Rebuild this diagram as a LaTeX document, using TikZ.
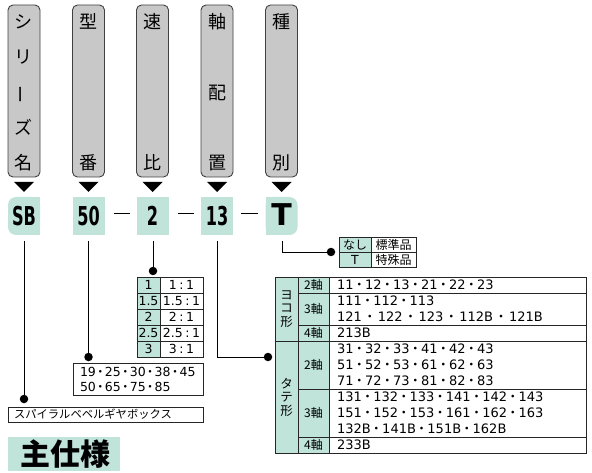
\documentclass[tikz,border=0pt]{standalone}
\usepackage{fontspec}
\setmainfont{DejaVu Sans}
\newfontfamily\jp{Noto Sans CJK JP}
\definecolor{mint}{RGB}{192,228,218}
\definecolor{boxgray}{RGB}{200,200,200}
\newcommand\dt{\hbox to 11.5pt{\hss{\jp ・}\hss}}
\newcommand\dtw{\hbox to 16pt{\hss{\jp ・}\hss}}
\newcommand\dts{\hbox to 9pt{\hss{\jp ・}\hss}}
\newcommand\rt[2]{#1\hspace{2.5pt}:\hspace{2.5pt}#2}
\newcommand\bignum[1]{\scalebox{0.62}[1]{\fontsize{26}{26}\selectfont\bfseries #1}}
\tikzset{
  graybox/.style={draw=black!75, fill=boxgray, rounded corners=5pt, line width=0.9pt, minimum width=32pt, minimum height=172pt},
  greenbox/.style={fill=mint, minimum width=32pt, minimum height=38pt},
  dot/.style={circle, fill=black, minimum size=8.5pt},
  conn/.style={draw=black, line width=0.7pt},
  tbl/.style={draw=black!85, line width=0.7pt},
  vchar/.style={font=\jp\fontsize{18}{18}\selectfont},
  cell/.style={font=\fontsize{13}{13}\selectfont},
  scell/.style={font=\fontsize{12.5}{12.5}\selectfont},
  jcell/.style={font=\jp\fontsize{12}{12}\selectfont},
  wbox/.style={draw=black!85, line width=0.7pt}
}
\begin{document}
\begin{tikzpicture}[x=1pt,y=-1pt, every node/.style={inner sep=0pt, outer sep=0pt}]
\useasboundingbox (0,0) rectangle (592,473);

% gray header boxes
\node[graybox] (g1) at (24,91) {};
\node[graybox] (g2) at (88.5,91) {};
\node[graybox] (g3) at (152.5,91) {};
\node[graybox] (g4) at (217,91) {};
\node[graybox] (g5) at (281.5,91) {};
\node[vchar] (c11) at (24,21.7) {シ};
\node[vchar] (c12) at (24,57) {リ};
\node[vchar] (c13) at (24,95) {\rotatebox{90}{ー}};
\node[vchar] (c14) at (24,127.5) {ズ};
\node[vchar] (c15) at (24,163) {名};
\node[vchar] (c21) at (88.5,21.5) {型};
\node[vchar] (c22) at (88.5,163) {番};
\node[vchar] (c31) at (152.5,21.5) {速};
\node[vchar] (c32) at (152.5,163) {比};
\node[vchar] (c41) at (217,21.5) {軸};
\node[vchar] (c42) at (217,93) {配};
\node[vchar] (c43) at (217,163) {置};
\node[vchar] (c51) at (281.5,21.5) {種};
\node[vchar] (c52) at (281.5,163) {別};
\foreach \n in {g1,g2,g3,g4,g5}
  \fill ([xshift=-10pt,yshift=-5pt]\n.south) -- ++(20,0) -- ++(-10,10) -- cycle;

% green code boxes
\node[greenbox, rounded corners=8pt] (sb) at (24,216) {};
\fill[mint] (sb.north) rectangle (sb.south east);
\node[greenbox] (b50) at (88.5,216) {};
\node[greenbox] (b2) at (152.5,216) {};
\node[greenbox] (b13) at (217,216) {};
\node[greenbox, rounded corners=8pt] (bt) at (281.5,216) {};
\fill[mint] (bt.north west) rectangle (bt.south);
\node (tsb) at (24,216) {\bignum{SB}};
\node (t50) at (88.5,216) {\bignum{50}};
\node (t2) at (152.5,216) {\bignum{2}};
\node (t13) at (217,216) {\bignum{13}};
\node (tt) at (281.5,215) {\fontsize{30}{30}\selectfont\bfseries T};
\draw[line width=1pt, shorten <=9pt, shorten >=7pt] ([yshift=2pt]b50.east) -- ([yshift=2pt]b2.west);
\draw[line width=1pt, shorten <=9pt, shorten >=7pt] ([yshift=2pt]b2.east) -- ([yshift=2pt]b13.west);
\draw[line width=1pt, shorten <=8pt, shorten >=8pt] ([yshift=2pt]b13.east) -- ([yshift=2pt]bt.west);

% dots and connectors
\node[dot] (d1) at (24,399) {};
\node[dot] (d2) at (88.5,357) {};
\node[dot] (d3) at (153,271) {};
\node[dot] (d4) at (268,357) {};
\node[dot] (d5) at (331,252) {};
\draw[conn] ([yshift=-6pt]sb.south) -- (d1);
\draw[conn] ([yshift=-6pt]b50.south) -- (d2);
\draw[conn] ([yshift=-6pt,xshift=0.5pt]b2.south) -- (d3);
\draw[conn] ([yshift=-6pt]b13.south) |- (d4);
\draw[conn] ([yshift=-6pt,xshift=0.5pt]bt.south) |- (d5);

% series description
\node[wbox, anchor=north west, minimum width=195pt, minimum height=15pt] (sbd) at (8,407) {};
\node[anchor=west, font=\jp\fontsize{11.3}{11.3}\selectfont] (sbdt) at (14,414.5) {スパイラルベベルギヤボックス};

% size box
\node[wbox, anchor=north west, minimum width=130pt, minimum height=32pt] (szb) at (73,363) {};
\node[anchor=west, scell] (sz1) at (80,372) {19\dts 25\dts 30\dts 38\dts 45};
\node[anchor=west, scell] (sz2) at (80,387) {50\dts 65\dts 75\dts 85};

% ratio table
\fill[mint] (137,277) rectangle (160,357);
\draw[tbl] (137,277) rectangle (203,357);
\draw[tbl] (160,277) -- (160,357);
\foreach \y in {293,309,325,341} \draw[tbl] (137,\y) -- (203,\y);
\node[scell] (r1a) at (148.5,285) {1};
\node[scell] (r2a) at (148.5,301) {1.5};
\node[scell] (r3a) at (148.5,317) {2};
\node[scell] (r4a) at (148.5,333) {2.5};
\node[scell] (r5a) at (148.5,349) {3};
\node[scell] (r1b) at (181.5,285) {\rt{1}{1}};
\node[scell] (r2b) at (181.5,301) {\rt{1.5}{1}};
\node[scell] (r3b) at (181.5,317) {\rt{2}{1}};
\node[scell] (r4b) at (181.5,333) {\rt{2.5}{1}};
\node[scell] (r5b) at (181.5,349) {\rt{3}{1}};

% type table
\fill[mint] (339,237) rectangle (371,267);
\draw[tbl] (339,237) rectangle (416,267);
\draw[tbl] (371,237) -- (371,267);
\draw[tbl] (339,252) -- (416,252);
\node[jcell] (k1a) at (355,244.5) {なし};
\node[scell] (k2a) at (355,259.5) {T};
\node[jcell] (k1b) at (393.5,244.5) {標準品};
\node[jcell] (k2b) at (393.5,259.5) {特殊品};

% axis table
\fill[mint] (275,277) rectangle (329,453);
\draw[tbl] (275,277) rectangle (586,453);
\draw[tbl] (298,277) -- (298,453);
\draw[tbl] (329,277) -- (329,453);
\foreach \y in {293,325,389,437} \draw[tbl] (298,\y) -- (586,\y);
\draw[tbl] (275,341) -- (586,341);
\node[align=center, font=\jp\fontsize{12.5}{13.5}\selectfont] (yoko) at (286.5,309) {ヨ\\コ\\形};
\node[align=center, font=\jp\fontsize{12.5}{13.5}\selectfont] (tate) at (286.5,397) {タ\\テ\\形};
\node[jcell] (a1) at (313.5,285) {2軸};
\node[jcell] (a2) at (313.5,309) {3軸};
\node[jcell] (a3) at (313.5,333) {4軸};
\node[jcell] (a4) at (313.5,365) {2軸};
\node[jcell] (a5) at (313.5,413) {3軸};
\node[jcell] (a6) at (313.5,445) {4軸};
\node[anchor=west, cell] (v1) at (337,285) {11\dt 12\dt 13\dt 21\dt 22\dt 23};
\node[anchor=west, cell] (v2) at (337,301) {111\dt 112\dt 113};
\node[anchor=west, cell] (v3) at (337,317) {121\dtw 122\dtw 123\dtw 112B\dtw 121B};
\node[anchor=west, cell] (v4) at (337,333) {213B};
\node[anchor=west, cell] (v5) at (337,349) {31\dt 32\dt 33\dt 41\dt 42\dt 43};
\node[anchor=west, cell] (v6) at (337,365) {51\dt 52\dt 53\dt 61\dt 62\dt 63};
\node[anchor=west, cell] (v7) at (337,381) {71\dt 72\dt 73\dt 81\dt 82\dt 83};
\node[anchor=west, cell] (v8) at (337,397) {131\dt 132\dt 133\dt 141\dt 142\dt 143};
\node[anchor=west, cell] (v9) at (337,413) {151\dt 152\dt 153\dt 161\dt 162\dt 163};
\node[anchor=west, cell] (v10) at (337,429) {132B\dt 141B\dt 151B\dt 162B};
\node[anchor=west, cell] (v11) at (337,445) {233B};

% title
\node[fill=mint, anchor=north west, minimum width=112pt, minimum height=34pt] (title) at (8,437) {};
\node[font=\jp\fontsize{30}{30}\selectfont\bfseries] (titlet) at (65,454.5) {主仕様};
\end{tikzpicture}
\end{document}
